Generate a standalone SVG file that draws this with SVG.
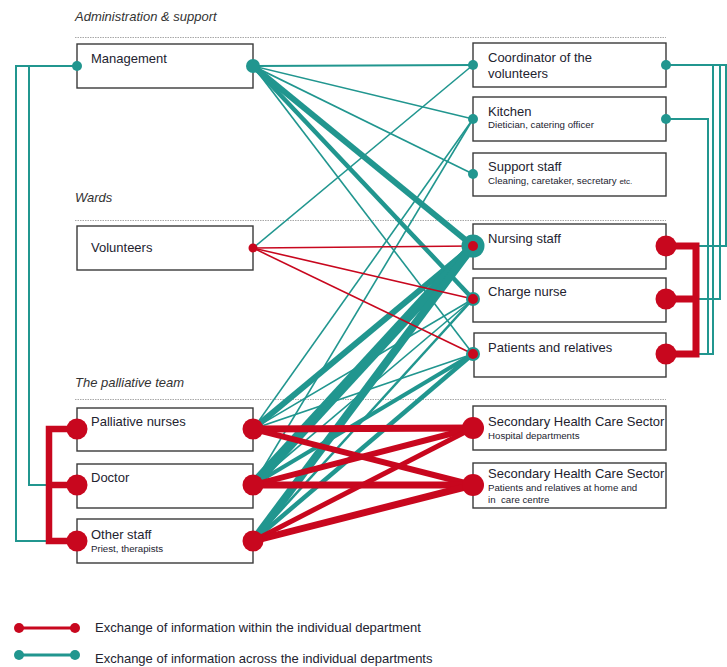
<svg xmlns="http://www.w3.org/2000/svg" width="727" height="667" viewBox="0 0 727 667">
<style>
text{font-family:"Liberation Sans",Arial,sans-serif;fill:#23232f}
.lbl{font-size:13px}
.sub{font-size:9.7px}
.sec{font-size:13px;font-style:italic;fill:#333}
.box{fill:#fff;stroke:#3a3a3a;stroke-width:1.4}
.t{stroke:#21968f;fill:none}
.r{stroke:#c8071e;fill:none}
.tf{fill:#21968f}
.rf{fill:#c8071e}
.div{stroke:#a8a8a8;stroke-width:1;stroke-dasharray:1.5 1}
</style>
<rect width="727" height="667" fill="#fff"/>

<g id="sections">
<text class="sec" x="75" y="21">Administration &amp; support</text>
<line class="div" x1="75" y1="37.5" x2="666" y2="37.5"/>
<text class="sec" x="75" y="202">Wards</text>
<line class="div" x1="75" y1="220.5" x2="666" y2="220.5"/>
<text class="sec" x="75" y="387">The palliative team</text>
<line class="div" x1="75" y1="399.5" x2="666" y2="399.5"/>
</g>

<g id="boxes">
<g id="management"><rect class="box" x="77" y="44" width="176" height="44"/><text class="lbl" x="91" y="63">Management</text></g>
<g id="volunteers"><rect class="box" x="77" y="226" width="176" height="44"/><text class="lbl" x="91" y="252">Volunteers</text></g>
<g id="palliative-nurses"><rect class="box" x="77" y="408" width="176" height="43"/><text class="lbl" x="91" y="426">Palliative nurses</text></g>
<g id="doctor"><rect class="box" x="77" y="464" width="176" height="44"/><text class="lbl" x="91" y="482">Doctor</text></g>
<g id="other-staff"><rect class="box" x="77" y="519" width="176" height="44"/><text class="lbl" x="91" y="539">Other staff</text><text class="sub" x="91" y="552">Priest, therapists</text></g>
<g id="coordinator"><rect class="box" x="473" y="43" width="193" height="44"/><text class="lbl" x="488" y="62">Coordinator of the</text><text class="lbl" x="488" y="78">volunteers</text></g>
<g id="kitchen"><rect class="box" x="473" y="97" width="193" height="44"/><text class="lbl" x="488" y="116">Kitchen</text><text class="sub" x="488" y="128">Dietician, catering officer</text></g>
<g id="support-staff"><rect class="box" x="473" y="153" width="193" height="43"/><text class="lbl" x="488" y="171">Support staff</text><text class="sub" x="488" y="184">Cleaning, caretaker, secretary <tspan font-size="8">etc.</tspan></text></g>
<g id="nursing-staff"><rect class="box" x="473" y="224" width="193" height="45"/><text class="lbl" x="488" y="243">Nursing staff</text></g>
<g id="charge-nurse"><rect class="box" x="473" y="278" width="193" height="44"/><text class="lbl" x="488" y="296">Charge nurse</text></g>
<g id="patients-relatives"><rect class="box" x="474" y="333" width="192" height="44"/><text class="lbl" x="488" y="352">Patients and relatives</text></g>
<g id="secondary-hospital"><rect class="box" x="473" y="406" width="193" height="44"/><text class="lbl" x="488" y="426">Secondary Health Care Sector</text><text class="sub" x="488" y="439">Hospital departments</text></g>
<g id="secondary-home"><rect class="box" x="473" y="463" width="193" height="45"/><text class="lbl" x="488" y="478">Secondary Health Care Sector</text><text class="sub" x="488" y="491">Patients and relatives at home and</text><text class="sub" x="488" y="503">in&#160; care centre</text></g>
</g>

<g id="connectors">
<path class="t" stroke-width="2" d="M77,66 H16 V541 H49 M29,66 V485 H49"/>
<path class="r" stroke-width="6.5" d="M77,429 H49 V541 H77 M49,485 H77"/>
<path class="t" stroke-width="2" d="M666,65 H727 M726,65 V246 H696 M720,65 V299 H696 M713,65 V354 H696 M666,119 H708 V354"/>
<path class="r" stroke-width="7" d="M666,246 H696 V354 H666 M696,299 H666"/>
<g class="t">
<line x1="253" y1="66" x2="473" y2="65" stroke-width="2"/>
<line x1="253" y1="66" x2="473" y2="119" stroke-width="1.6"/>
<line x1="253" y1="66" x2="473" y2="174" stroke-width="1.6"/>
<line x1="253" y1="66" x2="473" y2="354" stroke-width="1.6"/>
<line x1="253" y1="66" x2="473" y2="246" stroke-width="6"/>
<line x1="253" y1="66" x2="473" y2="299" stroke-width="4.5"/>
<line x1="253" y1="248" x2="473" y2="65" stroke-width="1.6"/>
<line x1="253" y1="429" x2="473" y2="119" stroke-width="1.6"/>
<line x1="253" y1="485" x2="473" y2="119" stroke-width="1.6"/>
<line x1="253" y1="429" x2="473" y2="299" stroke-width="1.6"/>
<line x1="253" y1="485" x2="473" y2="299" stroke-width="1.6"/>
<line x1="253" y1="541" x2="473" y2="299" stroke-width="2.5"/>
<line x1="253" y1="429" x2="473" y2="354" stroke-width="1.6"/>
<line x1="253" y1="485" x2="473" y2="354" stroke-width="4"/>
<line x1="253" y1="541" x2="473" y2="354" stroke-width="4.5"/>
<line x1="253" y1="429" x2="473" y2="246" stroke-width="6"/>
<line x1="253" y1="485" x2="473" y2="246" stroke-width="10"/>
<line x1="253" y1="541" x2="473" y2="246" stroke-width="8"/>
</g>
<g class="r">
<line x1="253" y1="248" x2="473" y2="246" stroke-width="1.6"/>
<line x1="253" y1="248" x2="473" y2="299" stroke-width="1.6"/>
<line x1="253" y1="248" x2="473" y2="354" stroke-width="1.6"/>
<line x1="253" y1="429" x2="473" y2="428" stroke-width="7"/>
<line x1="253" y1="429" x2="473" y2="485" stroke-width="6"/>
<line x1="253" y1="485" x2="473" y2="428" stroke-width="6"/>
<line x1="253" y1="485" x2="473" y2="485" stroke-width="7"/>
<line x1="253" y1="541" x2="473" y2="428" stroke-width="5"/>
<line x1="253" y1="541" x2="473" y2="485" stroke-width="7"/>
</g>
</g>

<g id="dots">
<circle class="tf" cx="77" cy="66" r="5"/>
<circle class="tf" cx="253" cy="66" r="7"/>
<circle class="rf" cx="253" cy="248" r="4.5"/>
<circle class="rf" cx="77" cy="429" r="10.5"/>
<circle class="rf" cx="77" cy="485" r="10.5"/>
<circle class="rf" cx="77" cy="541" r="10.5"/>
<circle class="rf" cx="253" cy="429" r="10.5"/>
<circle class="rf" cx="253" cy="485" r="10.5"/>
<circle class="rf" cx="253" cy="541" r="10.5"/>
<circle class="tf" cx="473" cy="65" r="5"/>
<circle class="tf" cx="473" cy="119" r="5"/>
<circle class="tf" cx="473" cy="174" r="5"/>
<circle class="tf" cx="666" cy="65" r="5"/>
<circle class="tf" cx="666" cy="119" r="5"/>
<circle class="tf" cx="473" cy="246" r="11.5"/>
<circle class="rf" cx="473" cy="246" r="5"/>
<circle class="tf" cx="473" cy="299" r="7"/>
<circle class="rf" cx="473" cy="299" r="5"/>
<circle class="tf" cx="473" cy="354" r="7"/>
<circle class="rf" cx="473" cy="354" r="5"/>
<circle class="rf" cx="473" cy="428" r="11"/>
<circle class="rf" cx="473" cy="485" r="11"/>
<circle class="rf" cx="666" cy="246" r="10.5"/>
<circle class="rf" cx="666" cy="299" r="10.5"/>
<circle class="rf" cx="666" cy="354" r="10.5"/>
</g>

<g id="legend">
<line class="r" x1="19" y1="628" x2="75" y2="628" stroke-width="3"/>
<circle class="rf" cx="19" cy="628" r="5"/>
<circle class="rf" cx="75" cy="628" r="5"/>
<text class="lbl" x="95" y="632">Exchange of information within the individual department</text>
<line class="t" x1="19" y1="655" x2="75" y2="655" stroke-width="3"/>
<circle class="tf" cx="19" cy="655" r="5"/>
<circle class="tf" cx="75" cy="655" r="5"/>
<text class="lbl" x="95" y="663">Exchange of information across the individual departments</text>
</g>
</svg>
